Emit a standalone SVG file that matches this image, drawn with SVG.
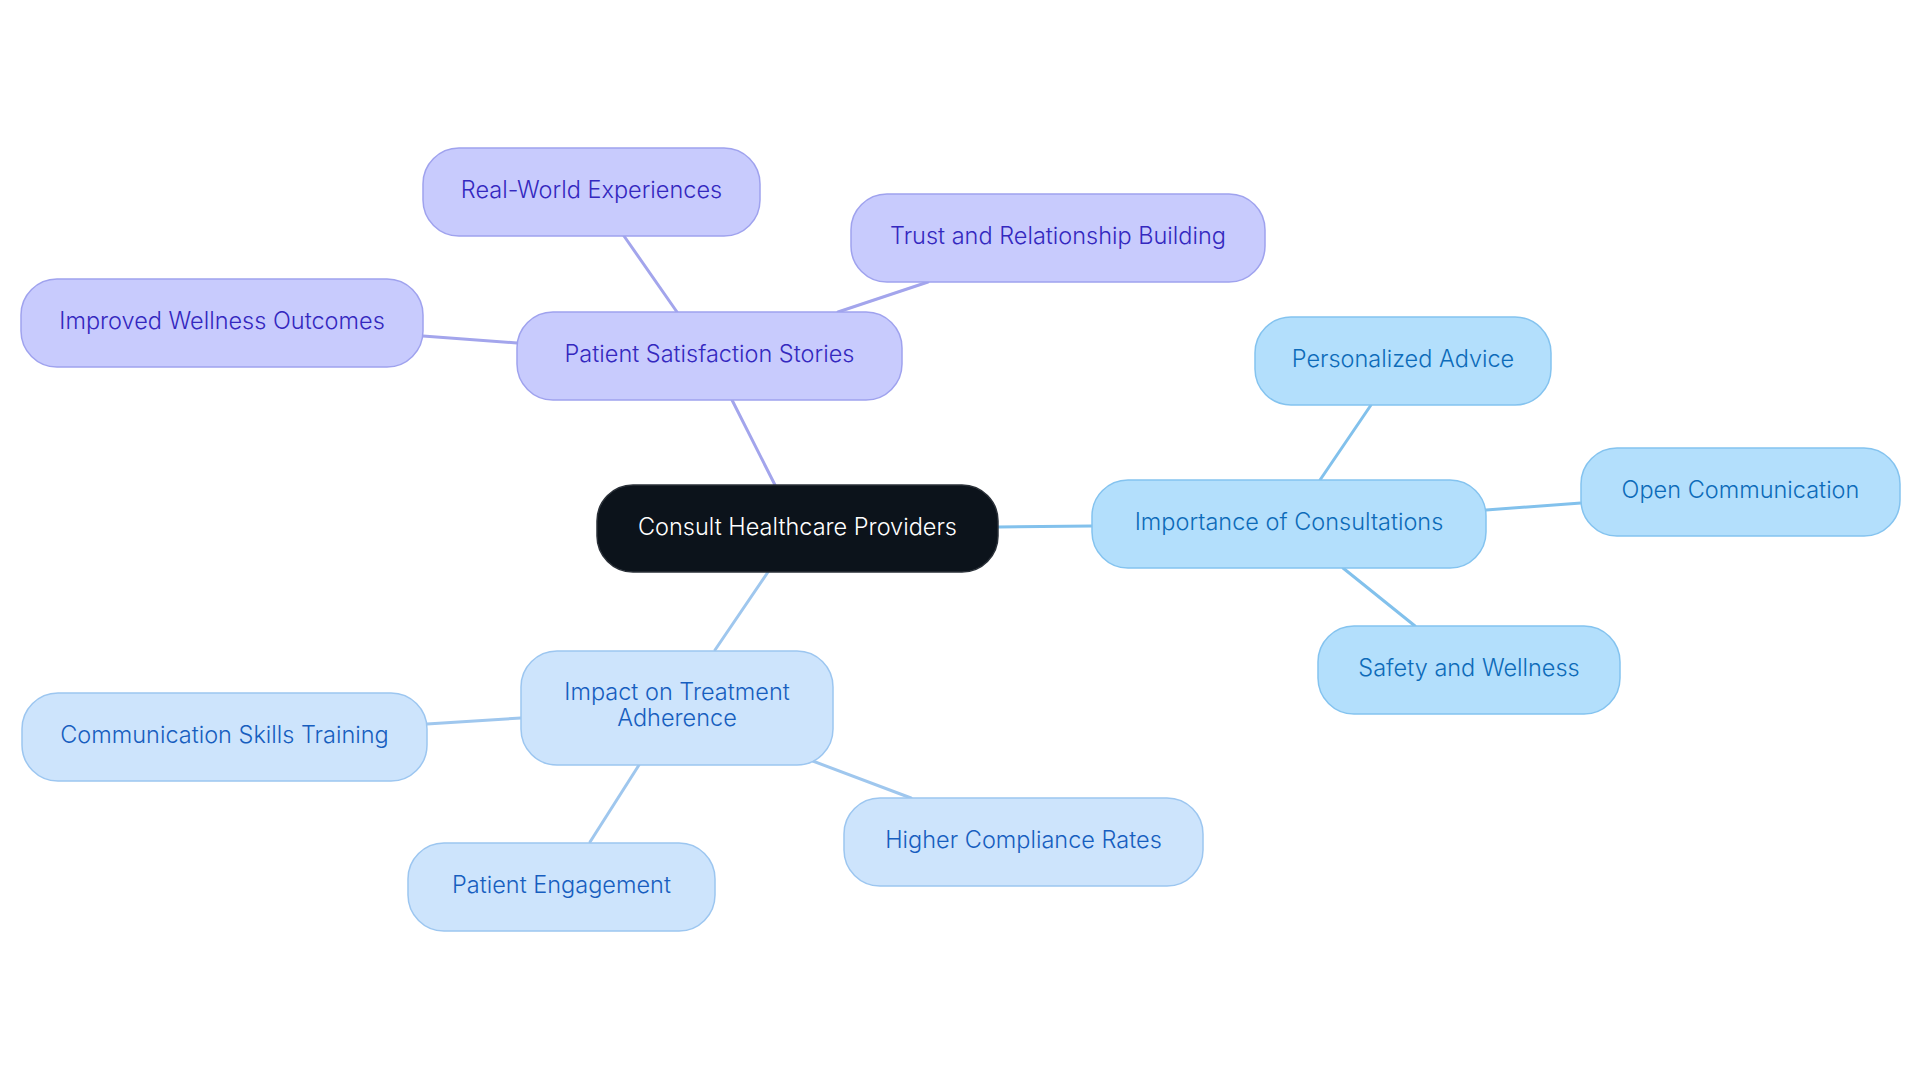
<svg xmlns="http://www.w3.org/2000/svg" width="1920" height="1083" viewBox="0 0 1920 1083">
<style>
text{font-family:Inter,"Noto Sans",sans-serif;font-size:23.5px;font-weight:350;text-anchor:middle}
.root rect{fill:#0c131b;stroke:#2a3038;stroke-width:1.5}
.root text{fill:#ffffff}
.pur rect{fill:#c8cbfd;stroke:#9fa2ee;stroke-width:1.5}
.pur text{fill:#3428bf}
.sky rect{fill:#b3dffc;stroke:#84c3ef;stroke-width:1.5}
.sky text{fill:#0d6bb9}
.pale rect{fill:#cde4fc;stroke:#9cc6f0;stroke-width:1.5}
.pale text{fill:#175ebf}
.e{fill:none;stroke-width:3;stroke-linecap:round}
.ep{stroke:#a3a5ec}
.es{stroke:#82c1ec}
.ea{stroke:#9fc7ee}
</style>
<rect width="1920" height="1083" fill="#ffffff"/>
<g id="connectors">
<line class="e ep" x1="775" y1="485" x2="732" y2="400"/>
<line class="e ep" x1="677" y1="312" x2="624" y2="236"/>
<line class="e ep" x1="838" y1="312" x2="928" y2="282"/>
<line class="e ep" x1="517" y1="343" x2="423" y2="336"/>
<line class="e es" x1="998" y1="527" x2="1092" y2="526"/>
<line class="e es" x1="1320" y1="480" x2="1371" y2="405"/>
<line class="e es" x1="1486" y1="510" x2="1581" y2="503"/>
<line class="e es" x1="1343" y1="568" x2="1415" y2="626"/>
<line class="e ea" x1="768" y1="572" x2="715" y2="650"/>
<line class="e ea" x1="521" y1="718" x2="427" y2="724"/>
<line class="e ea" x1="639" y1="765" x2="590" y2="842"/>
<line class="e ea" x1="810" y1="760" x2="911" y2="798"/>
</g>
<g id="n-root" class="root">
<rect x="597" y="485" width="401" height="87" rx="36"/>
<text x="797.5" y="534.5">Consult Healthcare Providers</text>
</g>
<g id="n-satisfaction" class="pur">
<rect x="517" y="312" width="385" height="88" rx="36"/>
<text x="709.5" y="362">Patient Satisfaction Stories</text>
</g>
<g id="n-realworld" class="pur">
<rect x="423" y="148" width="337" height="88" rx="36"/>
<text x="591.5" y="198">Real-World Experiences</text>
</g>
<g id="n-trust" class="pur">
<rect x="851" y="194" width="414" height="88" rx="36"/>
<text x="1058" y="244">Trust and Relationship Building</text>
</g>
<g id="n-wellness" class="pur">
<rect x="21" y="279" width="402" height="88" rx="36"/>
<text x="222" y="329">Improved Wellness Outcomes</text>
</g>
<g id="n-importance" class="sky">
<rect x="1092" y="480" width="394" height="88" rx="36"/>
<text x="1289" y="530">Importance of Consultations</text>
</g>
<g id="n-personalized" class="sky">
<rect x="1255" y="317" width="296" height="88" rx="36"/>
<text x="1403" y="367">Personalized Advice</text>
</g>
<g id="n-open" class="sky">
<rect x="1581" y="448" width="319" height="88" rx="36"/>
<text x="1740.5" y="498">Open Communication</text>
</g>
<g id="n-safety" class="sky">
<rect x="1318" y="626" width="302" height="88" rx="36"/>
<text x="1469" y="676">Safety and Wellness</text>
</g>
<g id="n-impact" class="pale">
<rect x="521" y="651" width="312" height="114" rx="36"/>
<text x="677" y="700">Impact on Treatment</text>
<text x="677" y="726">Adherence</text>
</g>
<g id="n-commskills" class="pale">
<rect x="22" y="693" width="405" height="88" rx="36"/>
<text x="224.5" y="743">Communication Skills Training</text>
</g>
<g id="n-engagement" class="pale">
<rect x="408" y="843" width="307" height="88" rx="36"/>
<text x="561.5" y="893">Patient Engagement</text>
</g>
<g id="n-compliance" class="pale">
<rect x="844" y="798" width="359" height="88" rx="36"/>
<text x="1023.5" y="848">Higher Compliance Rates</text>
</g>
</svg>
